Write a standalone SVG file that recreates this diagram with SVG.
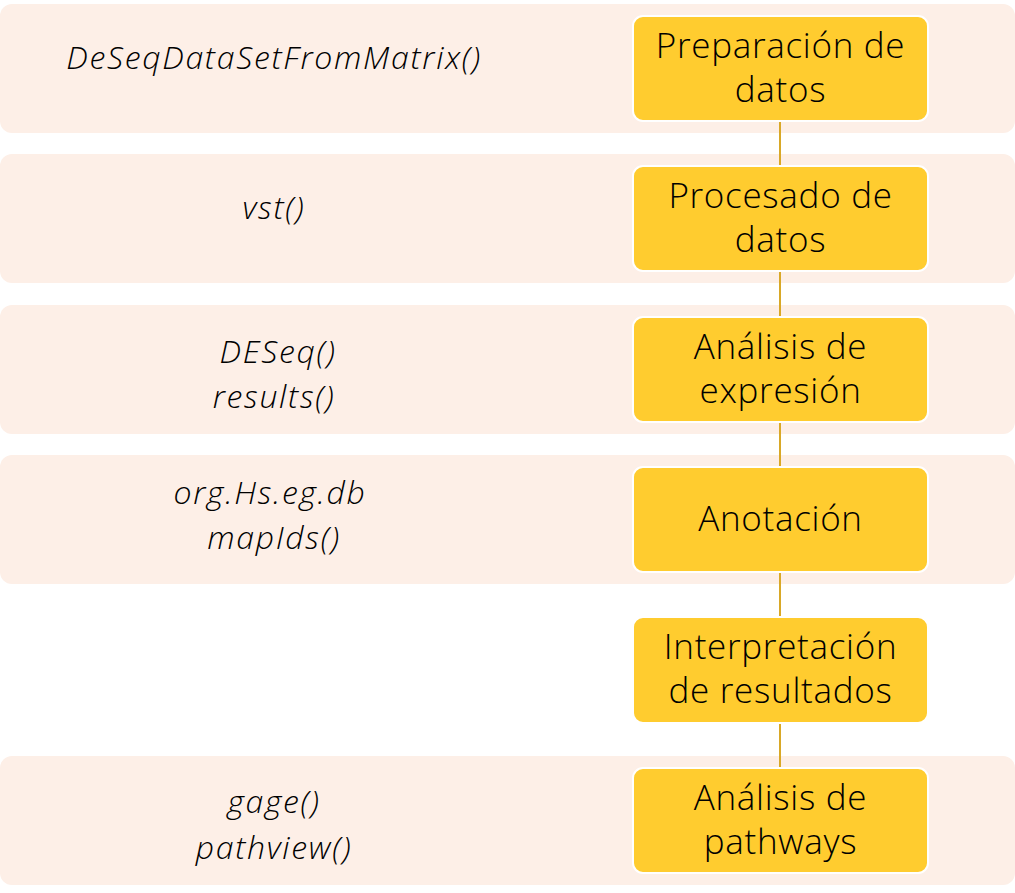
<svg xmlns="http://www.w3.org/2000/svg" width="1015" height="893" viewBox="0 0 1015 893">
<style>
.band{fill:#FDEFE7}
.box{fill:#FFCC2F;stroke:#FFFFFF;stroke-width:2}
.bt{font-family:"Open Sans","Liberation Sans",sans-serif;font-weight:300;font-size:35px;letter-spacing:0.7px;fill:#000;text-anchor:middle}
.ft{font-family:"Open Sans","Liberation Sans",sans-serif;font-weight:300;font-style:italic;font-size:32px;letter-spacing:1.7px;fill:#000;text-anchor:middle}
.con{stroke:#D9A827;stroke-width:2;fill:none}
</style>
<rect width="1015" height="893" fill="#FFFFFF"/>
<g id="bands">
<rect class="band" x="0" y="4" width="1015" height="129" rx="12"/>
<rect class="band" x="0" y="154" width="1015" height="129" rx="12"/>
<rect class="band" x="0" y="305" width="1015" height="129" rx="12"/>
<rect class="band" x="0" y="455" width="1015" height="129" rx="12"/>
<rect class="band" x="0" y="756" width="1015" height="129" rx="12"/>
</g>
<g id="functions">
<text class="ft" x="274" y="69">DeSeqDataSetFromMatrix()</text>
<text class="ft" x="274" y="219">vst()</text>
<text class="ft" x="278" y="363">DESeq()</text>
<text class="ft" x="274" y="408">results()</text>
<text class="ft" x="270" y="504">org.Hs.eg.db</text>
<text class="ft" x="274" y="549">mapIds()</text>
<text class="ft" x="274" y="813">gage()</text>
<text class="ft" x="274" y="859">pathview()</text>
</g>
<g id="connectors">
<line class="con" x1="780" y1="121" x2="780" y2="166"/>
<line class="con" x1="780" y1="271" x2="780" y2="317"/>
<line class="con" x1="780" y1="422" x2="780" y2="467"/>
<line class="con" x1="780" y1="572" x2="780" y2="617"/>
<line class="con" x1="780" y1="723" x2="780" y2="768"/>
</g>
<g id="n1"><rect class="box" x="633" y="16" width="295" height="105" rx="10"/><text class="bt" x="780.5" y="58">Preparación de</text><text class="bt" x="780.5" y="102">datos</text></g>
<g id="n2"><rect class="box" x="633" y="166" width="295" height="105" rx="10"/><text class="bt" x="780.5" y="208">Procesado de</text><text class="bt" x="780.5" y="252">datos</text></g>
<g id="n3"><rect class="box" x="633" y="317" width="295" height="105" rx="10"/><text class="bt" x="780.5" y="359">Análisis de</text><text class="bt" x="780.5" y="403">expresión</text></g>
<g id="n4"><rect class="box" x="633" y="467" width="295" height="105" rx="10"/><text class="bt" x="780.5" y="531">Anotación</text></g>
<g id="n5"><rect class="box" x="633" y="617" width="295" height="106" rx="10"/><text class="bt" x="780.5" y="659">Interpretación</text><text class="bt" x="780.5" y="703">de resultados</text></g>
<g id="n6"><rect class="box" x="633" y="768" width="295" height="105" rx="10"/><text class="bt" x="780.5" y="810">Análisis de</text><text class="bt" x="780.5" y="854">pathways</text></g>
</svg>
